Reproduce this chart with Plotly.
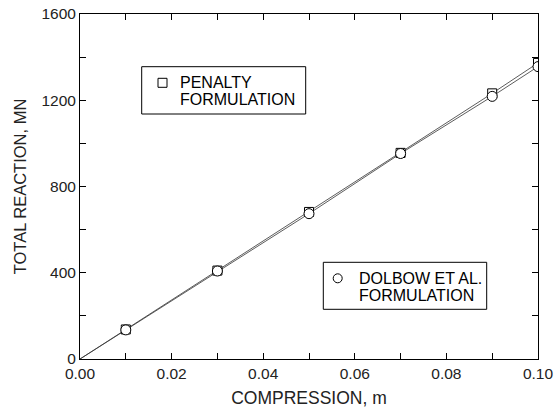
import plotly.graph_objects as go

compression = [0.0, 0.01, 0.03, 0.05, 0.07, 0.09, 0.10]
penalty = [0, 137, 410, 682, 956, 1232, 1373]
dolbow = [0, 135, 408, 674, 953, 1218, 1356]

x_tickvals = [0.00, 0.01, 0.02, 0.03, 0.04, 0.05, 0.06, 0.07, 0.08, 0.09, 0.10]
x_ticktext = ["0.00", "", "0.02", "", "0.04", "", "0.06", "", "0.08", "", "0.10"]
y_tickvals = [0, 200, 400, 600, 800, 1000, 1200, 1400, 1600]
y_ticktext = ["0", "", "400", "", "800", "", "1200", "", "1600"]

legend_penalty = ["PENALTY", "FORMULATION"]
legend_dolbow = ["DOLBOW ET AL.", "FORMULATION"]

FONT = "Liberation Sans, Arial, Helvetica, sans-serif"

W, H = 555, 409
L, R, T, B = 80, 538, 14, 359   # plot area in pixels
def px(x):
    return (x - L) / (R - L)
def py(y):
    return (B - y) / (B - T)

fig = go.Figure()
fig.add_trace(go.Scatter(x=compression, y=penalty, mode="lines", line=dict(color="#333", width=0.8),
                         showlegend=False, hoverinfo="skip"))
fig.add_trace(go.Scatter(x=compression, y=dolbow, mode="lines", line=dict(color="#333", width=0.8),
                         showlegend=False, hoverinfo="skip"))
fig.add_trace(go.Scatter(x=compression[1:], y=penalty[1:], mode="markers", name="PENALTY FORMULATION",
                         marker=dict(symbol="square", size=9, color="white", line=dict(color="black", width=1)),
                         showlegend=False))
fig.add_trace(go.Scatter(x=compression[1:], y=dolbow[1:], mode="markers", name="DOLBOW ET AL. FORMULATION",
                         marker=dict(symbol="circle", size=10, color="white", line=dict(color="black", width=1)),
                         showlegend=False))

shapes = [
    dict(type="rect", xref="paper", yref="paper", x0=px(141.7), x1=px(305.7), y0=py(114), y1=py(66.7),
         line=dict(color="black", width=1), fillcolor="white", layer="above"),
    dict(type="rect", xref="paper", yref="paper", x0=px(158), x1=px(167), y0=py(87.3), y1=py(78.3),
         line=dict(color="black", width=1), fillcolor="white", layer="above"),
    dict(type="rect", xref="paper", yref="paper", x0=px(323.3), x1=px(486.7), y0=py(309.3), y1=py(262.3),
         line=dict(color="black", width=1), fillcolor="white", layer="above"),
    dict(type="circle", xref="paper", yref="paper", x0=px(333.2), x1=px(342.2), y0=py(282.8), y1=py(273.8),
         line=dict(color="black", width=1), fillcolor="white", layer="above"),
]

annotations = []
for i, txt in enumerate(legend_penalty):
    annotations.append(dict(xref="paper", yref="paper", x=px(178), y=py(82.5 + i * 16.7), text=txt,
                            showarrow=False, xanchor="left", yanchor="middle",
                            font=dict(family=FONT, size=16, color="black")))
for i, txt in enumerate(legend_dolbow):
    annotations.append(dict(xref="paper", yref="paper", x=px(356.5), y=py(278.3 + i * 16.9), text=txt,
                            showarrow=False, xanchor="left", yanchor="middle",
                            font=dict(family=FONT, size=16, color="black")))

axis_common = dict(showline=True, linecolor="black", linewidth=1, mirror="ticks", ticks="inside",
                   ticklen=6, tickcolor="black", tickwidth=1, showgrid=False, zeroline=False,
                   automargin=False, ticklabeloverflow="allow",
                   tickfont=dict(family=FONT, size=15.5, color="#222"))

fig.update_layout(
    width=W, height=H,
    margin=dict(l=L, r=W - R, t=T, b=H - B),
    paper_bgcolor="white", plot_bgcolor="white",
    font=dict(family=FONT, size=15, color="#222"),
    showlegend=False,
    shapes=shapes, annotations=annotations,
    xaxis=dict(range=[0, 0.10], tickvals=x_tickvals, ticktext=x_ticktext,
               title=dict(text="COMPRESSION, m", font=dict(family=FONT, size=17.5, color="#222"), standoff=11),
               **axis_common),
    yaxis=dict(range=[0, 1600], tickvals=y_tickvals, ticktext=y_ticktext,
               title=dict(text="TOTAL REACTION, MN", font=dict(family=FONT, size=16.5, color="#222"), standoff=10),
               **axis_common),
)

# remove the browser's default 8px page margin so the figure fills the window exactly
fig.write_html("out.html", config={"displayModeBar": False},
               post_script="document.body.style.margin='0';document.body.style.overflow='hidden';")
